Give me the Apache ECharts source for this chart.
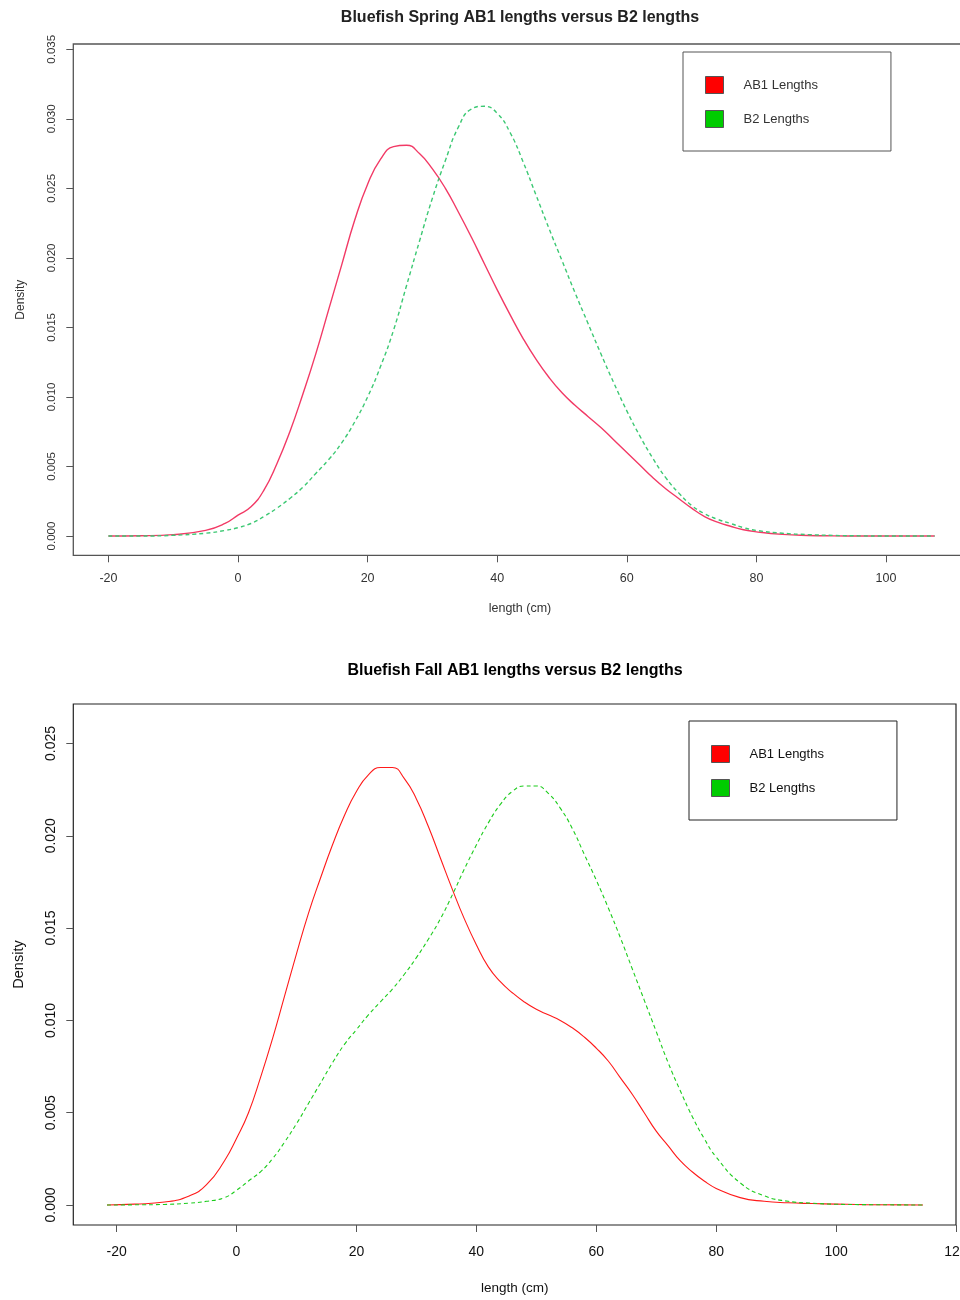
<!DOCTYPE html>
<html>
<head>
<meta charset="utf-8">
<script src="https://cdn.jsdelivr.net/npm/echarts@6/dist/echarts.min.js"></script>
<style>
html,body{margin:0;padding:0;background:#fff;}
#chart{width:960px;height:1300px;}
</style>
</head>
<body>
<div id="chart"></div>
<script>
// ---------- data ----------
const springTitle = 'Bluefish Spring AB1 lengths versus B2 lengths';
const fallTitle = 'Bluefish Fall AB1 lengths versus B2 lengths';
const seriesNames = ['AB1 Lengths', 'B2 Lengths'];

const springX = [-20,-15,-10,-5,-2,0,2,4,6,8,10,12,14,16,18,20,22,24,26,28,30,32,34,36,38,40,42,44,46,48,50,52,54,56,58,60,62,64,66,68,70,72,74,76,78,80,84,88,92,96,100,107.5];
const springAB1 = [0,0.00002,0.0001,0.0004,0.0009,0.0015,0.0021,0.0033,0.0052,0.0075,0.0102,0.0131,0.0163,0.0195,0.0227,0.0253,0.0271,0.0280,0.0281,0.0275,0.0264,0.0250,0.0233,0.0215,0.0196,0.0177,0.0159,0.0142,0.0127,0.0114,0.0103,0.0094,0.0086,0.0078,0.0069,0.0060,0.0051,0.0042,0.0034,0.0027,0.0020,0.0014,0.0010,0.0007,0.00045,0.0003,0.00012,0.00004,0.00001,0,0,0];
const springB2 = [0,0,0.00005,0.0002,0.0004,0.0006,0.0009,0.0014,0.0020,0.0027,0.0035,0.0045,0.0055,0.0067,0.0082,0.0100,0.0122,0.0148,0.0180,0.0212,0.0243,0.0270,0.0294,0.0307,0.0309,0.0304,0.0290,0.0269,0.0245,0.0221,0.0198,0.0175,0.0153,0.0131,0.0110,0.0090,0.0072,0.0056,0.0042,0.0031,0.0022,0.0016,0.0012,0.0009,0.0006,0.0004,0.0002,0.0001,0.00004,0.00001,0,0];

const fallX = [-21.6,-17,-12,-8,-5,-2,0,2,4,6,8,10,12,14,16,18,20,22,24,26,28,30,32,34,36,38,40,42,44,46,48,50,52,54,56,58,60,62,64,66,68,70,72,74,76,78,80,84,88,92,96,100,105,114.5];
const fallAB1 = [0,0.00005,0.00016,0.00048,0.0011,0.0024,0.0036,0.0050,0.0069,0.0090,0.0113,0.0136,0.0158,0.0177,0.0195,0.0211,0.0224,0.0233,0.0237,0.0237,0.0231,0.0220,0.0205,0.0188,0.0171,0.0155,0.0141,0.0129,0.0121,0.0115,0.0110,0.0106,0.0103,0.0100,0.0096,0.0091,0.0085,0.0078,0.0069,0.0060,0.0050,0.0040,0.0032,0.0024,0.0018,0.0013,0.0009,0.0004,0.0002,0.00012,0.00008,0.00005,0.00002,0];
const fallB2 = [0,0.00001,0.00003,0.0001,0.0002,0.0004,0.0008,0.0013,0.0018,0.0025,0.0034,0.0044,0.0055,0.0066,0.0077,0.0087,0.0095,0.0103,0.0110,0.0117,0.0125,0.0134,0.0144,0.0155,0.0168,0.0182,0.0195,0.0207,0.0217,0.0224,0.0227,0.0227,0.0223,0.0215,0.0204,0.0190,0.0176,0.0161,0.0145,0.0128,0.0111,0.0094,0.0077,0.0062,0.0048,0.0036,0.0026,0.0012,0.0005,0.0002,0.0001,0.00004,0.00002,0];

const springXTicks = [-20,0,20,40,60,80,100];
const springYTicks = [0,0.005,0.010,0.015,0.020,0.025,0.030,0.035];
const fallXTicks = [-20,0,20,40,60,80,100,120];
const fallYTicks = [0,0.005,0.010,0.015,0.020,0.025];

// ---------- build ----------
const FONT = '"Liberation Sans", Arial, sans-serif';
function textW(t, font){const c=document.createElement('canvas').getContext('2d');c.font=font;return c.measureText(t).width;}
const pairs = (xs, ys) => xs.map((x,i)=>[x, ys[i]]);

const t1Font = 'bold 16px "Liberation Sans"';
const t2Font = 'bold 16px "Liberation Sans"';

function xAxisCfg(gi, min, max, ticks, fs, margin, nameGap, nameFs, col){
  return {type:'value', gridIndex:gi, min:min, max:max,
    name:'length (cm)', nameLocation:'middle', nameGap:nameGap,
    nameTextStyle:{fontFamily:FONT,fontSize:nameFs,color:col},
    axisLine:{show:false, onZero:false}, splitLine:{show:false},
    axisTick:{show:true, length:7, customValues:ticks, lineStyle:{color:'#555',width:1}},
    axisLabel:{customValues:ticks, fontFamily:FONT, fontSize:fs, color:col, margin:margin, showMaxLabel:true}};
}
function yAxisCfg(gi, min, max, ticks, fs, nameFs, col){
  return {type:'value', gridIndex:gi, min:min, max:max,
    name:'Density', nameLocation:'middle', nameGap:47,
    nameTextStyle:{fontFamily:FONT,fontSize:nameFs,color:col},
    axisLine:{show:false, onZero:false}, splitLine:{show:false},
    axisTick:{show:true, length:7, customValues:ticks, lineStyle:{color:'#555',width:1}},
    axisLabel:{customValues:ticks, rotate:90, fontFamily:FONT, fontSize:fs, color:col, margin:15,
      formatter:v=>v.toFixed(3)}};
}
function legendCfg(left, top, fs, border, col){
  return {left:left, top:top, orient:'vertical', icon:'rect', itemWidth:18, itemHeight:17, itemGap:16,
    padding:[24,73,23,22], borderColor:border, borderWidth:1, selectedMode:false,
    textStyle:{fontFamily:FONT, fontSize:fs, color:col, padding:[0,0,0,15]},
    data:[{name:seriesNames[0], itemStyle:{color:'#ff0000',borderColor:'#555',borderWidth:1}},
          {name:seriesNames[1], itemStyle:{color:'#00cc00',borderColor:'#555',borderWidth:1}}]};
}

const option = {
  backgroundColor:'#fff',
  animation:false,
  title:[
    {text:springTitle, left:515 - textW(springTitle,t1Font)/2, top:5,
     textStyle:{fontFamily:FONT,fontSize:16,fontWeight:'bold',color:'#222'}},
    {text:fallTitle, left:510 - textW(fallTitle,t2Font)/2, top:658,
     textStyle:{fontFamily:FONT,fontSize:16,fontWeight:'bold',color:'#000'}}
  ],
  legend:[legendCfg(683,52,13,'#555','#333'), legendCfg(689,721,13,'#222','#111')],
  grid:[
    {left:73.3, top:44, width:893.4, height:511.3, show:true, borderColor:'#555', borderWidth:1.3,
     backgroundColor:'transparent', outerBoundsMode:'none', containLabel:false},
    {left:73.3, top:704, width:882.7, height:521, show:true, borderColor:'#222', borderWidth:1.2,
     backgroundColor:'transparent', outerBoundsMode:'none', containLabel:false}
  ],
  xAxis:[
    xAxisCfg(0, -25.42, 112.45, springXTicks, 12.5, 17, 47, 12.5, '#333'),
    xAxisCfg(1, -27.22, 120, fallXTicks, 14, 20, 56, 13.5, '#111')
  ],
  yAxis:[
    yAxisCfg(0, -0.001388, 0.035381, springYTicks, 11.5, 12, '#333'),
    yAxisCfg(1, -0.001083, 0.02714, fallYTicks, 14, 14.5, '#111')
  ],
  series:[
    {name:seriesNames[0], type:'line', xAxisIndex:0, yAxisIndex:0, showSymbol:false, symbol:'none', smooth:0.5,
     data:pairs(springX, springAB1), lineStyle:{color:'#f23a66', width:1.4}, itemStyle:{color:'#ff0000'}},
    {name:seriesNames[1], type:'line', xAxisIndex:0, yAxisIndex:0, showSymbol:false, symbol:'none', smooth:0.5,
     data:pairs(springX, springB2), lineStyle:{color:'#3cc873', width:1.4, type:[4,3]}, itemStyle:{color:'#00cc00'}},
    {name:seriesNames[0], type:'line', xAxisIndex:1, yAxisIndex:1, showSymbol:false, symbol:'none', smooth:0.5,
     data:pairs(fallX, fallAB1), lineStyle:{color:'#ff1a1a', width:1.1}, itemStyle:{color:'#ff0000'}},
    {name:seriesNames[1], type:'line', xAxisIndex:1, yAxisIndex:1, showSymbol:false, symbol:'none', smooth:0.5,
     data:pairs(fallX, fallB2), lineStyle:{color:'#1ccc1c', width:1.1, type:[4,3]}, itemStyle:{color:'#00cc00'}}
  ]
};
const chart = echarts.init(document.getElementById('chart'), null, {renderer:'canvas'});
chart.setOption(option);
</script>
</body>
</html>
